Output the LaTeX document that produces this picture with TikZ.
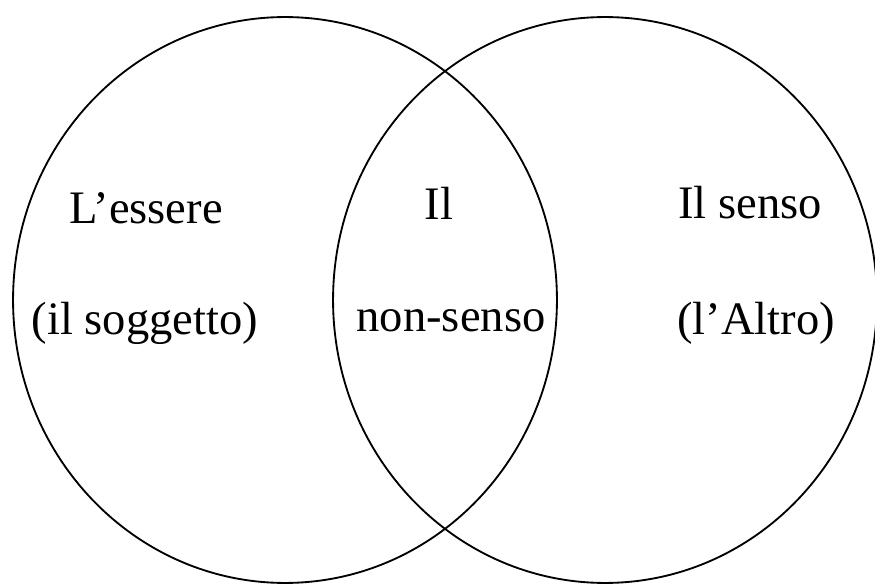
\documentclass[tikz,border=0pt]{standalone}
\usepackage{fontspec}
\setmainfont{Liberation Serif}
\usepackage{tikz}
\usetikzlibrary{shapes.geometric}

\begin{document}
\begin{tikzpicture}[
  x=0.02cm, y=-0.02cm,
  insieme/.style={ellipse, draw, line width=1.05pt, inner sep=0pt, minimum width=10.88cm, minimum height=11.32cm},
  etichetta/.style={anchor=base, inner sep=0pt, font=\fontsize{26.5}{32}\selectfont}
]
\useasboundingbox (0,0) rectangle (875,584);

% i due insiemi
\node[insieme] (essere) at (285,300) {};
\node[insieme] (senso) at (605,300) {};

% parte sinistra
\node[etichetta] (essereA) at (146,223) {L'essere};
\node[etichetta] (essereB) at (145,334) {(il soggetto)};

% intersezione
\node[etichetta] (nonsensoA) at (439,219) {Il};
\node[etichetta] (nonsensoB) at (451,331) {non-senso};

% parte destra
\node[etichetta] (sensoA) at (750,218) {Il senso};
\node[etichetta] (sensoB) at (756,334) {(l'Altro)};
\end{tikzpicture}
\end{document}
